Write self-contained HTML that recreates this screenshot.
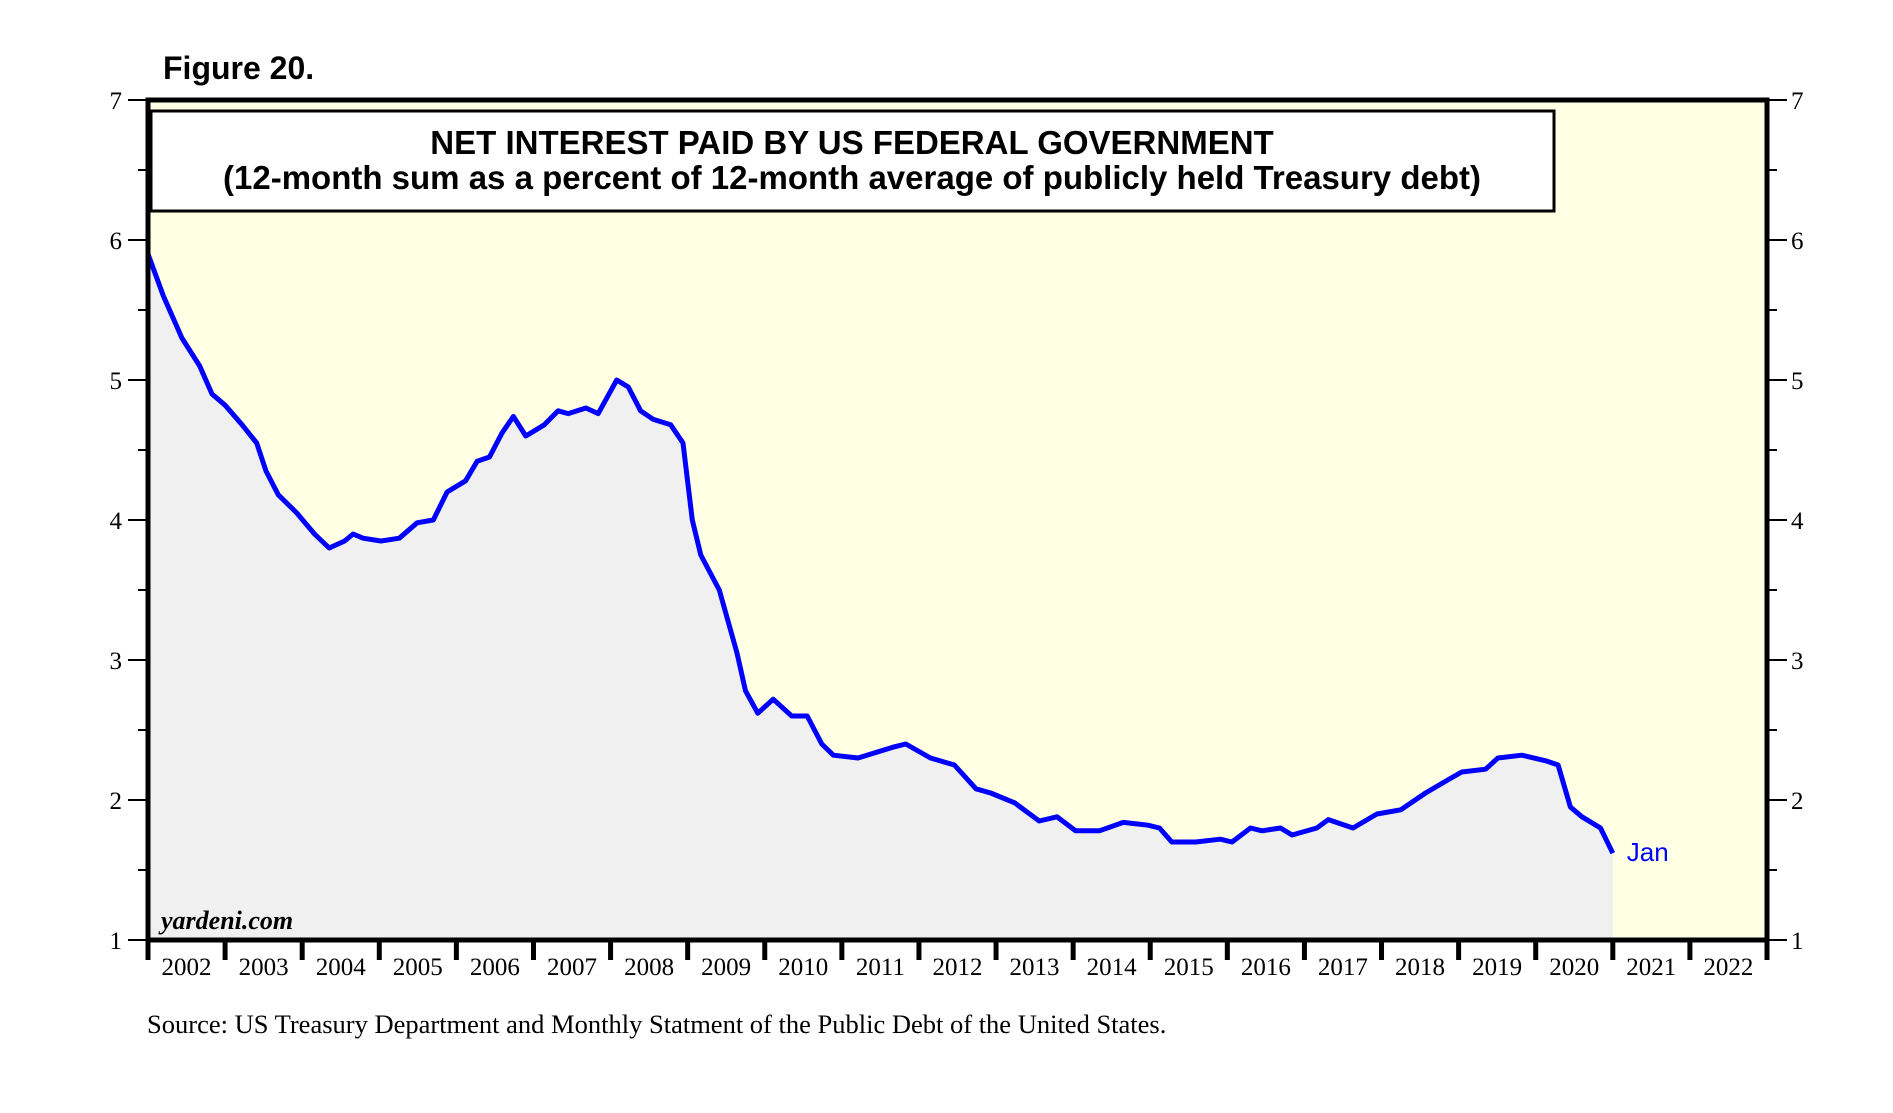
<!DOCTYPE html>
<html><head><meta charset="utf-8"><style>
html,body{margin:0;padding:0;background:#fff;}
svg{display:block;}
text{font-family:"Liberation Serif",serif;}
</style></head><body>
<svg id="chart" width="1893" height="1113" viewBox="0 0 1893 1113" xmlns="http://www.w3.org/2000/svg">
<text x="163" y="79" font-weight="bold" font-size="32" style="font-family:'Liberation Sans',sans-serif">Figure 20.</text>
<rect x="148" y="100" width="1619" height="840" fill="#ffffe4"/>
<g id="fills"></g>
<g id="lines"></g>
<rect x="151" y="111" width="1403" height="100" fill="#fff" stroke="#000" stroke-width="3"/>
<text x="852" y="154" text-anchor="middle" font-weight="bold" font-size="33" style="font-family:'Liberation Sans',sans-serif">NET INTEREST PAID BY US FEDERAL GOVERNMENT</text>
<text x="852" y="189" text-anchor="middle" font-weight="bold" font-size="33" style="font-family:'Liberation Sans',sans-serif">(12-month sum as a percent of 12-month average of publicly held Treasury debt)</text>
<g id="axes"></g>
<rect x="148" y="100" width="1619" height="840" fill="none" stroke="#000" stroke-width="5"/>
<text x="161" y="929" font-style="italic" font-weight="bold" font-size="26">yardeni.com</text>
<text x="147" y="1033" font-size="26.5">Source: US Treasury Department and Monthly Statment of the Public Debt of the United States.</text>
</svg>
<script>
const dates = [2002.0,2002.2,2002.44,2002.67,2002.83,2003.0,2003.22,2003.41,2003.53,2003.69,2003.93,2004.16,2004.35,2004.55,2004.66,2004.79,2005.02,2005.26,2005.49,2005.7,2005.88,2006.12,2006.27,2006.43,2006.59,2006.74,2006.9,2007.14,2007.32,2007.45,2007.68,2007.84,2008.08,2008.23,2008.39,2008.55,2008.78,2008.94,2009.06,2009.17,2009.41,2009.64,2009.75,2009.91,2010.11,2010.35,2010.55,2010.74,2010.89,2011.21,2011.68,2011.83,2012.15,2012.46,2012.74,2012.93,2013.24,2013.56,2013.79,2014.03,2014.34,2014.65,2014.97,2015.12,2015.28,2015.59,2015.91,2016.06,2016.3,2016.45,2016.69,2016.84,2017.16,2017.31,2017.63,2017.94,2018.25,2018.57,2018.88,2019.04,2019.35,2019.51,2019.82,2020.13,2020.29,2020.45,2020.6,2020.84,2021.0];
const values = [5.9,5.6,5.3,5.1,4.9,4.82,4.68,4.55,4.35,4.18,4.05,3.9,3.8,3.85,3.9,3.87,3.85,3.87,3.98,4.0,4.2,4.28,4.42,4.45,4.62,4.74,4.6,4.68,4.78,4.76,4.8,4.76,5.0,4.95,4.78,4.72,4.68,4.55,4.0,3.75,3.5,3.05,2.78,2.62,2.72,2.6,2.6,2.4,2.32,2.3,2.38,2.4,2.3,2.25,2.08,2.05,1.98,1.85,1.88,1.78,1.78,1.84,1.82,1.8,1.7,1.7,1.72,1.7,1.8,1.78,1.8,1.75,1.8,1.86,1.8,1.9,1.93,2.05,2.15,2.2,2.22,2.3,2.32,2.28,2.25,1.95,1.88,1.8,1.62];
const yearLabels = ["2002","2003","2004","2005","2006","2007","2008","2009","2010","2011","2012","2013","2014","2015","2016","2017","2018","2019","2020","2021","2022"];
const yTicks = [1,2,3,4,5,6,7];
const lastLabel = "Jan";

const NS="http://www.w3.org/2000/svg";
const L=148,R=1767,T=100,B=940;
const x=d=>L+(d-2002)/21*(R-L);
const y=v=>B-(v-1)/6*(B-T);
function mk(tag,attrs,parent){const e=document.createElementNS(NS,tag);for(const k in attrs)e.setAttribute(k,attrs[k]);document.getElementById(parent).appendChild(e);return e;}

let pts=dates.map((d,i)=>x(d).toFixed(1)+","+y(values[i]).toFixed(1));
const area=mk("polygon",{points:x(dates[0])+","+B+" "+pts.join(" ")+" "+x(dates[dates.length-1])+","+B,fill:"#f0f0f0"},"fills");


const line=mk("polyline",{points:pts.join(" "),fill:"none",stroke:"#0000ff","stroke-width":"5","stroke-linejoin":"round"},"lines");


const jl=mk("text",{x:x(dates[dates.length-1])+14,y:y(values[values.length-1])+8,fill:"#0000ff","font-size":"26",style:"font-family:'Liberation Sans',sans-serif"},"lines");
jl.textContent=lastLabel;



yearLabels.forEach((lab,i)=>{
  const xt=x(2002+i);
  const t=mk("line",{x1:xt,x2:xt,y1:B,y2:B+20,stroke:"#000","stroke-width":"5"},"axes");
  
  
  const tx=mk("text",{x:xt+38.5,y:B+35,"text-anchor":"middle","font-size":"25"},"axes");
  tx.textContent=lab;
  
  
});
const xe=mk("line",{x1:R,x2:R,y1:B,y2:B+20,stroke:"#000","stroke-width":"5"},"axes");



yTicks.forEach(v=>{
  const yt=y(v);
  const a=mk("line",{x1:L-20,x2:L,y1:yt,y2:yt,stroke:"#000","stroke-width":"2"},"axes");
  
  
  const b=mk("line",{x1:R,x2:R+20,y1:yt,y2:yt,stroke:"#000","stroke-width":"2"},"axes");
  
  
  const l1=mk("text",{x:L-26,y:yt+9,"text-anchor":"end","font-size":"25"},"axes");
  l1.textContent=v;
  
  
  const l2=mk("text",{x:R+24,y:yt+9,"font-size":"25"},"axes");
  l2.textContent=v;
  
  
  if(v<7){
    const ym=y(v+0.5);
    const m1=mk("line",{x1:L-10,x2:L,y1:ym,y2:ym,stroke:"#000","stroke-width":"2"},"axes");
    
    
    const m2=mk("line",{x1:R,x2:R+10,y1:ym,y2:ym,stroke:"#000","stroke-width":"2"},"axes");
    
    
  }
});
</script>
</body></html>
